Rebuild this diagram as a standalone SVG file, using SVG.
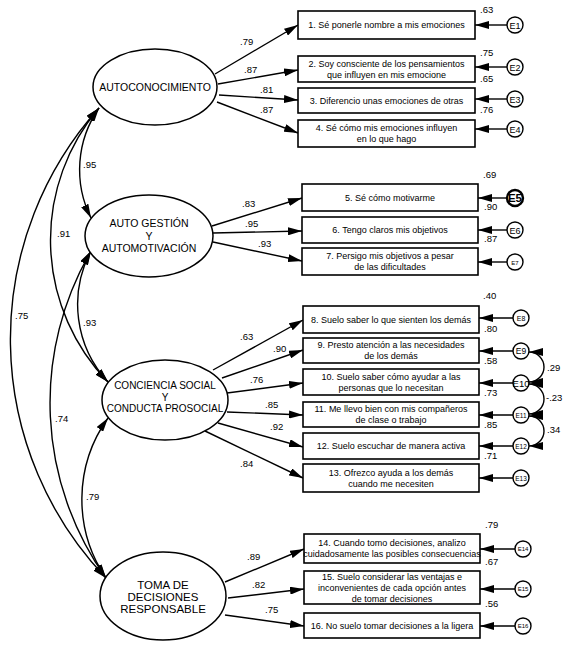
<svg xmlns="http://www.w3.org/2000/svg" width="569" height="650" viewBox="0 0 569 650">
<style>
text{font-family:"Liberation Sans",Arial,sans-serif;fill:#000}
.lat{fill:#fff;stroke:#000;stroke-width:1.5}
.box{fill:#fff;stroke:#000;stroke-width:1.6}
.err{fill:#fff;stroke:#000;stroke-width:1.4}
.lt{font-size:10.5px;text-anchor:middle}
.bt{font-size:9px;text-anchor:middle}
.et{text-anchor:middle}
.c{font-size:9.5px}
.ln{fill:none;stroke:#000;stroke-width:1.4;marker-end:url(#ah)}
.cv{fill:none;stroke:#000;stroke-width:1.4;marker-end:url(#ah);marker-start:url(#ah)}
</style>
<defs>
<marker id="ah" viewBox="0 0 14 8" markerWidth="14" markerHeight="8" markerUnits="userSpaceOnUse" refX="14" refY="4" orient="auto-start-reverse">
<path d="M0,0 L14,4 L0,8 z" fill="#000"/>
</marker>
</defs>
<rect width="569" height="650" fill="#fff"/>

<g id="connectors">
<path class="ln" d="M215,74 L298,25"/>
<path class="ln" d="M218,84 L298,70"/>
<path class="ln" d="M219,95 L298,100"/>
<path class="ln" d="M217,102 L298,133"/>
<path class="ln" d="M212,226 L302,198"/>
<path class="ln" d="M213,233 L302,231"/>
<path class="ln" d="M213,242 L302,261"/>
<path class="ln" d="M213,370 L303,320"/>
<path class="ln" d="M222,378 L303,350"/>
<path class="ln" d="M227,393 L303,383"/>
<path class="ln" d="M227,412 L303,415"/>
<path class="ln" d="M218,423 L303,447"/>
<path class="ln" d="M205,431 L303,478"/>
<path class="ln" d="M225,582 L304,549"/>
<path class="ln" d="M228,598 L304,589"/>
<path class="ln" d="M225,615 L304,626"/>
<path class="ln" d="M507,25 L475,25"/>
<path class="ln" d="M507,67 L475,67"/>
<path class="ln" d="M507,99 L475,99"/>
<path class="ln" d="M507,129 L475,129"/>
<path class="ln" d="M507,198 L478,198"/>
<path class="ln" d="M507,230 L478,230"/>
<path class="ln" d="M507,262 L478,262"/>
<path class="ln" d="M513,318 L479,318"/>
<path class="ln" d="M513,351 L479,351"/>
<path class="ln" d="M513,383 L479,383"/>
<path class="ln" d="M513,415 L479,415"/>
<path class="ln" d="M513,446 L479,446"/>
<path class="ln" d="M513,478 L479,478"/>
<path class="ln" d="M515,549 L480,549"/>
<path class="ln" d="M515,589 L480,589"/>
<path class="ln" d="M515,626 L480,626"/>
<path class="cv" d="M99,108 A108,108 0 0 0 91,218"/>
<path class="cv" d="M99,108 A204,204 0 0 0 108,382"/>
<path class="cv" d="M99,108 A346,346 0 0 0 106,578"/>
<path class="cv" d="M91,251 A114,114 0 0 0 108,382"/>
<path class="cv" d="M91,251 A302,302 0 0 0 106,578"/>
<path class="cv" d="M108,418 A140,140 0 0 0 106,578"/>
<path class="cv" d="M529,352 A15,15 0 0 1 529,382"/>
<path class="cv" d="M529,384 A15,15 0 0 1 529,414"/>
<path class="cv" d="M529,416 A15,15 0 0 1 529,446"/>
</g>

<g id="autoconocimiento">
<ellipse class="lat" cx="155" cy="87" rx="62" ry="38"/>
<text class="lt" x="155" y="91">AUTOCONOCIMIENTO</text>
</g>
<g id="autogestion">
<ellipse class="lat" cx="149" cy="236" rx="64" ry="41"/>
<text class="lt" x="149" y="227">AUTO GESTIÓN</text>
<text class="lt" x="149" y="240">Y</text>
<text class="lt" x="149" y="252">AUTOMOTIVACIÓN</text>
</g>
<g id="conciencia">
<ellipse class="lat" cx="165" cy="400" rx="63" ry="40"/>
<text class="lt" x="165" y="389" style="font-size:10px">CONCIENCIA SOCIAL</text>
<text class="lt" x="165" y="400.5" style="font-size:10px">Y</text>
<text class="lt" x="165" y="412" style="font-size:10px">CONDUCTA PROSOCIAL</text>
</g>
<g id="toma">
<ellipse class="lat" cx="163" cy="596" rx="63" ry="44"/>
<text class="lt" x="163" y="589" style="font-size:11.5px">TOMA DE</text>
<text class="lt" x="163" y="601" style="font-size:11.5px">DECISIONES</text>
<text class="lt" x="163" y="613" style="font-size:11.5px">RESPONSABLE</text>
</g>

<g id="item1"><rect class="box" x="298" y="11" width="177" height="28"/><text class="bt" x="386.5" y="28">1. Sé ponerle nombre a mis emociones</text></g>
<g id="item2"><rect class="box" x="298" y="56" width="177" height="26"/><text class="bt" x="386.5" y="67">2. Soy consciente de los pensamientos</text><text class="bt" x="386.5" y="78">que influyen en mis emocione</text></g>
<g id="item3"><rect class="box" x="298" y="88" width="177" height="25"/><text class="bt" x="386.5" y="104">3. Diferencio unas emociones de otras</text></g>
<g id="item4"><rect class="box" x="298" y="120" width="177" height="27"/><text class="bt" x="386.5" y="131">4. Sé cómo mis emociones influyen</text><text class="bt" x="386.5" y="142">en lo que hago</text></g>
<g id="item5"><rect class="box" x="302" y="184" width="176" height="27"/><text class="bt" x="390" y="201">5. Sé cómo motivarme</text></g>
<g id="item6"><rect class="box" x="302" y="217" width="176" height="26"/><text class="bt" x="390" y="233">6. Tengo claros mis objetivos</text></g>
<g id="item7"><rect class="box" x="302" y="248" width="176" height="27"/><text class="bt" x="390" y="259">7. Persigo mis objetivos a pesar</text><text class="bt" x="390" y="270">de las dificultades</text></g>
<g id="item8"><rect class="box" x="303" y="306" width="176" height="27"/><text class="bt" x="391" y="323">8. Suelo saber lo que sienten los demás</text></g>
<g id="item9"><rect class="box" x="303" y="338" width="176" height="25"/><text class="bt" x="391" y="348">9. Presto atención a las necesidades</text><text class="bt" x="391" y="359">de los demás</text></g>
<g id="item10"><rect class="box" x="303" y="369" width="176" height="26"/><text class="bt" x="391" y="380">10. Suelo saber cómo ayudar a las</text><text class="bt" x="391" y="391">personas que lo necesitan</text></g>
<g id="item11"><rect class="box" x="303" y="402" width="176" height="25"/><text class="bt" x="391" y="412">11. Me llevo bien con mis compañeros</text><text class="bt" x="391" y="423">de clase o trabajo</text></g>
<g id="item12"><rect class="box" x="303" y="433" width="176" height="26"/><text class="bt" x="391" y="449">12. Suelo escuchar de manera activa</text></g>
<g id="item13"><rect class="box" x="303" y="464" width="176" height="28"/><text class="bt" x="391" y="476">13. Ofrezco ayuda a los demás</text><text class="bt" x="391" y="487">cuando me necesiten</text></g>
<g id="item14"><rect class="box" x="304" y="534" width="176" height="29"/><text class="bt" x="392" y="546">14. Cuando tomo decisiones, analizo</text><text class="bt" x="392" y="557">cuidadosamente las posibles consecuencias</text></g>
<g id="item15"><rect class="box" x="304" y="571" width="176" height="33"/><text class="bt" x="392" y="580">15. Suelo considerar las ventajas e</text><text class="bt" x="392" y="591">inconvenientes de cada opción antes</text><text class="bt" x="392" y="602">de tomar decisiones</text></g>
<g id="item16"><rect class="box" x="304" y="613" width="176" height="25"/><text class="bt" x="392" y="629">16. No suelo tomar decisiones a la ligera</text></g>

<g id="E1"><circle class="err" cx="515" cy="25" r="8"/><text class="et" x="515" y="28.5" font-size="9">E1</text></g>
<g id="E2"><circle class="err" cx="515" cy="67" r="8"/><text class="et" x="515" y="70.5" font-size="9">E2</text></g>
<g id="E3"><circle class="err" cx="515" cy="99" r="8"/><text class="et" x="515" y="102.5" font-size="9">E3</text></g>
<g id="E4"><circle class="err" cx="515" cy="129" r="8"/><text class="et" x="515" y="132.5" font-size="9">E4</text></g>
<g id="E5"><circle class="err" cx="515" cy="198" r="8" style="stroke-width:2.4"/><text class="et" x="515" y="202" font-size="11.5" font-weight="bold">E5</text></g>
<g id="E6"><circle class="err" cx="515" cy="230" r="8"/><text class="et" x="515" y="233.5" font-size="9">E6</text></g>
<g id="E7"><circle class="err" cx="515" cy="262" r="8"/><text class="et" x="515" y="264.5" font-size="6">E7</text></g>
<g id="E8"><circle class="err" cx="521" cy="318" r="8"/><text class="et" x="521" y="320.5" font-size="7">E8</text></g>
<g id="E9"><circle class="err" cx="521" cy="351" r="8"/><text class="et" x="521" y="354" font-size="8.5">E9</text></g>
<g id="E10"><circle class="err" cx="521" cy="383" r="8"/><text class="et" x="521" y="386.5" font-size="9.5">E10</text></g>
<g id="E11"><circle class="err" cx="521" cy="415" r="8"/><text class="et" x="521" y="417.5" font-size="6.5">E11</text></g>
<g id="E12"><circle class="err" cx="521" cy="446" r="8"/><text class="et" x="521" y="448.5" font-size="6.5">E12</text></g>
<g id="E13"><circle class="err" cx="521" cy="478" r="8"/><text class="et" x="521" y="480.5" font-size="6.5">E13</text></g>
<g id="E14"><circle class="err" cx="523" cy="549" r="8"/><text class="et" x="523" y="551" font-size="6">E14</text></g>
<g id="E15"><circle class="err" cx="523" cy="589" r="8"/><text class="et" x="523" y="591" font-size="6">E15</text></g>
<g id="E16"><circle class="err" cx="523" cy="626" r="8"/><text class="et" x="523" y="628" font-size="6">E16</text></g>

<g id="labels">
<text class="c" x="480" y="13">.63</text>
<text class="c" x="480" y="56">.75</text>
<text class="c" x="480" y="82">.65</text>
<text class="c" x="480" y="113">.76</text>
<text class="c" x="240" y="45">.79</text>
<text class="c" x="244" y="73">.87</text>
<text class="c" x="260" y="93">.81</text>
<text class="c" x="260" y="113">.87</text>
<text class="c" x="483" y="178">.69</text>
<text class="c" x="484" y="210">.90</text>
<text class="c" x="484" y="242">.87</text>
<text class="c" x="242" y="207">.83</text>
<text class="c" x="245" y="227">.95</text>
<text class="c" x="258" y="247">.93</text>
<text class="c" x="483" y="299">.40</text>
<text class="c" x="484" y="332">.80</text>
<text class="c" x="484" y="364">.58</text>
<text class="c" x="484" y="396">.73</text>
<text class="c" x="484" y="428">.85</text>
<text class="c" x="484" y="459">.71</text>
<text class="c" x="240" y="340">.63</text>
<text class="c" x="273" y="352">.90</text>
<text class="c" x="250" y="383">.76</text>
<text class="c" x="265" y="408">.85</text>
<text class="c" x="270" y="430">.92</text>
<text class="c" x="240" y="467">.84</text>
<text class="c" x="485" y="528">.79</text>
<text class="c" x="485" y="565">.67</text>
<text class="c" x="485" y="607">.56</text>
<text class="c" x="247" y="560">.89</text>
<text class="c" x="252" y="588">.82</text>
<text class="c" x="265" y="613">.75</text>
<text class="c" x="83" y="168">.95</text>
<text class="c" x="57" y="237">.91</text>
<text class="c" x="15" y="319">.75</text>
<text class="c" x="83" y="326">.93</text>
<text class="c" x="55" y="422">.74</text>
<text class="c" x="86" y="500">.79</text>
<text class="c" x="547" y="371">.29</text>
<text class="c" x="546" y="401">-.23</text>
<text class="c" x="547" y="433">.34</text>
</g>
</svg>
